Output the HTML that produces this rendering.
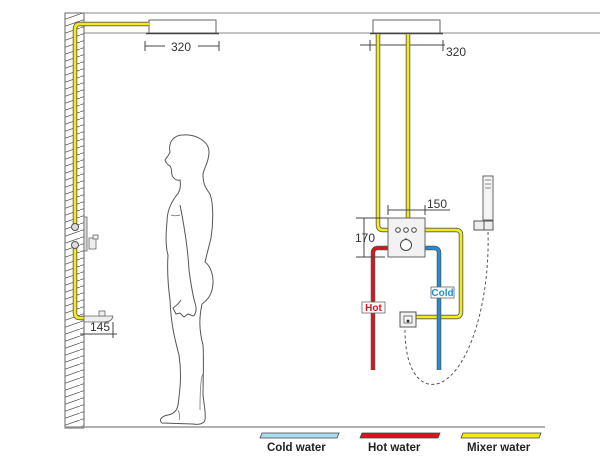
<!DOCTYPE html>
<html><head><style>body{margin:0;background:#fff}svg{display:block}text{font-family:"Liberation Sans",Arial,sans-serif}</style></head>
<body>
<svg width="600" height="463" viewBox="0 0 600 463">
<defs>
<pattern id="h" width="20" height="7" patternUnits="userSpaceOnUse"><path d="M0 7 L20 0" stroke="#555" stroke-width="0.8"/></pattern>
</defs>
<line x1="65" y1="13" x2="600" y2="13" stroke="#888" stroke-width="1"/>
<line x1="84" y1="33" x2="600" y2="33" stroke="#888" stroke-width="1"/>
<rect x="65" y="13" width="19" height="415" fill="url(#h)" stroke="#666" stroke-width="1"/>
<line x1="65" y1="427" x2="545" y2="427" stroke="#999" stroke-width="1.5"/>
<rect x="149" y="20" width="67" height="13" fill="#fff" stroke="#666"/>
<line x1="146" y1="33.5" x2="219" y2="33.5" stroke="#444" stroke-width="1.5"/>
<g stroke="#444" stroke-width="1" fill="none">
<line x1="145" y1="41" x2="145" y2="51"/><line x1="219" y1="41" x2="219" y2="51"/>
<line x1="145" y1="46" x2="165" y2="46"/><line x1="198" y1="46" x2="219" y2="46"/>
</g>
<text x="181" y="51" font-size="12" text-anchor="middle" fill="#333">320</text>
<path d="M149 24 H80 Q75 24 75 29 V224 M75 247 V313 Q75 318 80 318 H86" fill="none" stroke="#555" stroke-width="4.5"/>
<path d="M149 24 H80 Q75 24 75 29 V224 M75 247 V313 Q75 318 80 318 H86" fill="none" stroke="#f2ea1a" stroke-width="2.8"/>
<circle cx="75" cy="227" r="3.5" fill="#ddd" stroke="#555"/>
<circle cx="75" cy="245" r="3.5" fill="#ddd" stroke="#555"/>
<rect x="84" y="217" width="3" height="34" fill="#ddd" stroke="#666" stroke-width="0.8"/>
<rect x="89" y="238" width="7" height="11" fill="#eee" stroke="#666" stroke-width="0.8"/>
<rect x="93" y="235" width="5" height="4" fill="#eee" stroke="#666" stroke-width="0.8"/>
<path d="M84 316 H113 Q112 322 104 322 H84 Z" fill="#eee" stroke="#666" stroke-width="0.8"/>
<rect x="99" y="311" width="6" height="5" fill="#eee" stroke="#666" stroke-width="0.8"/>
<g stroke="#444" stroke-width="1"><line x1="80" y1="334" x2="117" y2="334"/><line x1="113" y1="322" x2="113" y2="338"/></g>
<text x="100" y="331" font-size="12" text-anchor="middle" fill="#333">145</text>
<!-- person -->
<path d="M183 135 C197 134 209 142 209 152 C209 162 204 168 203 174 C203 182 204 186 210 194 C214 205 213 225 211 238 C208 250 206 258 205 262 C211 266 215 278 212 290 C210 298 205 302 202 304 C199 318 199 330 203 345 C204 360 203 380 203 395 C204 405 206 412 205 420 C204 424 198 425 193 424 L162 423 C158 420 162 416 168 415 C173 414 177 411 178 405 C180 390 182 375 179 355 C175 340 171 325 170 300 C168 285 167 270 168 255 C165 245 166 232 167 222 C167 212 170 204 176 196 C180 192 181 186 180 180 C176 181 173 178 172 175 C171 171 172 168 170 166 C168 165 166 163 165 160 C167 157 169 155 170 152 C168 142 174 135 183 135 Z" fill="#fff" stroke="#555" stroke-width="1"/>
<path d="M180 205 C184 225 188 250 189 270 C191 285 193 296 195 303 C197 308 196 315 193 316 L188 314 L184 317 L180 313 L176 314 L173 308 C176 306 179 303 181 300" fill="none" stroke="#555" stroke-width="1"/>
<path d="M171 215 C174 216 177 216 180 215 M203 374 C200 378 200 400 200 410 M178 410 C180 414 180 418 179 420" fill="none" stroke="#777" stroke-width="0.8"/>
<!-- right showerhead -->
<rect x="373" y="20" width="67" height="13" fill="#fff" stroke="#666"/>
<line x1="370" y1="33.5" x2="443" y2="33.5" stroke="#444" stroke-width="1.5"/>
<g stroke="#444" stroke-width="1" fill="none">
<line x1="360" y1="45" x2="445" y2="45"/><line x1="370" y1="40" x2="370" y2="51"/><line x1="443" y1="40" x2="443" y2="51"/>
</g>
<text x="446" y="56" font-size="12" fill="#333">320</text>
<g fill="none" stroke-linejoin="round">
<path d="M378 34 V225 Q378 230 383 230 H390 M408 34 V218 M425 230 H456 Q461 230 461 235 V312 Q461 317 456 317 H416" stroke="#555" stroke-width="4.5"/>
<path d="M378 34 V225 Q378 230 383 230 H390 M408 34 V218 M425 230 H456 Q461 230 461 235 V312 Q461 317 456 317 H416" stroke="#f2ea1a" stroke-width="2.8"/>
<path d="M390 248 H378 Q373 248 373 253 V370" stroke="#555" stroke-width="4.5"/>
<path d="M390 248 H378 Q373 248 373 253 V370" stroke="#d9141c" stroke-width="2.8"/>
<path d="M425 248 H434 Q439 248 439 253 V370" stroke="#555" stroke-width="4.5"/>
<path d="M425 248 H434 Q439 248 439 253 V370" stroke="#1f8fd8" stroke-width="2.8"/>
</g>
<rect x="388" y="218" width="37" height="39" fill="#f2f2f2" stroke="#666"/>
<circle cx="398" cy="230" r="2.3" fill="#fff" stroke="#444"/>
<circle cx="406" cy="230" r="2.3" fill="#fff" stroke="#444"/>
<circle cx="414" cy="230" r="2.3" fill="#fff" stroke="#444"/>
<circle cx="406" cy="245" r="5.5" fill="#fff" stroke="#444"/>
<line x1="406" y1="238" x2="406" y2="240" stroke="#444"/>
<g stroke="#444" stroke-width="1">
<line x1="388" y1="210" x2="450" y2="210"/><line x1="388" y1="205" x2="388" y2="215"/><line x1="425" y1="205" x2="425" y2="215"/>
<line x1="364" y1="218" x2="364" y2="257"/><line x1="356" y1="218" x2="388" y2="218"/><line x1="356" y1="257" x2="385" y2="257"/>
</g>
<text x="427" y="208" font-size="12" fill="#333">150</text>
<text x="355" y="242" font-size="12" fill="#333">170</text>
<rect x="362" y="302" width="23" height="11" fill="#fff" stroke="#666" stroke-width="0.8"/>
<text x="373.5" y="311" font-size="10" font-weight="bold" text-anchor="middle" fill="#d9141c">Hot</text>
<rect x="431" y="287" width="23" height="11" fill="#fff" stroke="#666" stroke-width="0.8"/>
<text x="442.5" y="296" font-size="10" font-weight="bold" text-anchor="middle" fill="#1f8fd8">Cold</text>
<rect x="400" y="312" width="16" height="15" fill="#f2f2f2" stroke="#555"/>
<rect x="404" y="316" width="8" height="7" fill="#fff" stroke="#555" stroke-width="0.8"/>
<circle cx="408" cy="321" r="1.5" fill="#333"/>
<rect x="483" y="176" width="10" height="44" fill="#f4f4f4" stroke="#666"/>
<line x1="485" y1="180" x2="491" y2="180" stroke="#888"/><line x1="485" y1="184" x2="491" y2="184" stroke="#888"/><line x1="485" y1="188" x2="491" y2="188" stroke="#888"/>
<rect x="474" y="221" width="10" height="9" fill="#eee" stroke="#555"/>
<rect x="484" y="221" width="9" height="9" fill="#eee" stroke="#555"/>
<path d="M488 232 C490 300 470 370 440 383 C420 390 405 370 405 330" fill="none" stroke="#555" stroke-width="1" stroke-dasharray="3,2.5"/>
<polygon points="262,433 339,433 337,438 260,438" fill="#a8dcef" stroke="#444" stroke-width="0.8"/>
<polygon points="362,433 440,433 438,438 360,438" fill="#d9141c" stroke="#444" stroke-width="0.8"/>
<polygon points="463,433 541,433 539,438 461,438" fill="#f2ea1a" stroke="#444" stroke-width="0.8"/>
<text x="267" y="451" font-size="11.5" font-weight="bold" fill="#222">Cold water</text>
<text x="368" y="451" font-size="11.5" font-weight="bold" fill="#222">Hot water</text>
<text x="467" y="451" font-size="11.5" font-weight="bold" fill="#222">Mixer water</text>
</svg>
</body></html>
